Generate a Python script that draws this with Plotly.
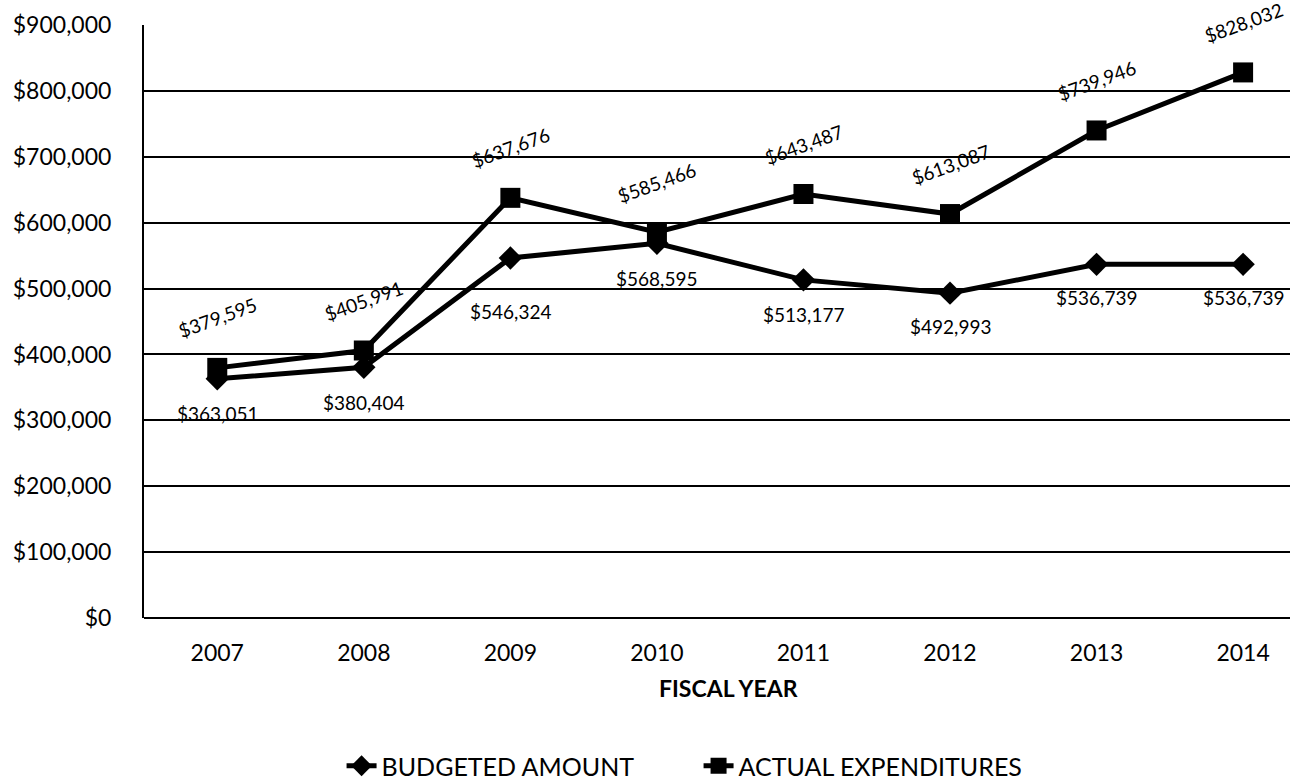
import plotly.graph_objects as go

years = ["2007", "2008", "2009", "2010", "2011", "2012", "2013", "2014"]
budgeted = [363051, 380404, 546324, 568595, 513177, 492993, 536739, 536739]
actual = [379595, 405991, 637676, 585466, 643487, 613087, 739946, 828032]
y_ticks = [0, 100000, 200000, 300000, 400000, 500000, 600000, 700000, 800000, 900000]

# label pixel offsets (style, not data)
budget_label_shift = [-35, -35, -53, -35, -35, -33, -33, -33]
actual_label_shift = 50

FONT = "Lato"
xs = list(range(len(years)))

fig = go.Figure()
fig.add_trace(go.Scatter(
    x=xs, y=budgeted, name="BUDGETED AMOUNT", mode="lines+markers",
    line=dict(color="black", width=5),
    marker=dict(symbol="diamond", size=18, color="black"),
))
fig.add_trace(go.Scatter(
    x=xs, y=actual, name="ACTUAL EXPENDITURES", mode="lines+markers",
    line=dict(color="black", width=5),
    marker=dict(symbol="square", size=20, color="black"),
))

annotations = []
for i, v in enumerate(budgeted):
    annotations.append(dict(
        x=xs[i], y=v, xref="x", yref="y", text=f"${v:,}", showarrow=False,
        yshift=budget_label_shift[i], font=dict(family=FONT, size=19, color="black"),
    ))
for i, v in enumerate(actual):
    annotations.append(dict(
        x=xs[i], y=v, xref="x", yref="y", text=f"${v:,}", showarrow=False,
        yshift=actual_label_shift, textangle=-20,
        font=dict(family=FONT, size=19, color="black"),
    ))
annotations.append(dict(
    x=0.51, y=(618 - 688) / 593, xref="paper", yref="paper", text="<b>FISCAL YEAR</b>",
    showarrow=False, xanchor="center", yanchor="middle",
    font=dict(family=FONT, size=23, color="black"),
))

fig.update_layout(
    width=1297, height=779,
    margin=dict(l=144, r=7, t=25, b=161, autoexpand=False),
    paper_bgcolor="white", plot_bgcolor="white",
    font=dict(family=FONT, color="black"),
    showlegend=True,
    legend=dict(orientation="h", xref="container", yref="container",
                x=0.5386, y=1 - 766 / 779, xanchor="center", yanchor="middle",
                font=dict(family=FONT, size=25, color="black"), itemwidth=30,
                entrywidth=312, traceorder="normal"),
    annotations=annotations,
)
fig.update_xaxes(
    range=[-0.5, 7.32], tickmode="array", tickvals=xs, ticktext=years,
    showgrid=False, zeroline=False, showline=False, automargin=False,
    tickfont=dict(family=FONT, size=23, color="black"), ticklabelstandoff=19,
)
fig.update_yaxes(
    range=[0, 900000], tickmode="array", tickvals=y_ticks,
    ticktext=[f"${t:,}" for t in y_ticks],
    showgrid=True, gridcolor="black", gridwidth=1.5,
    zeroline=True, zerolinecolor="black", zerolinewidth=1.5,
    showline=True, linecolor="black", linewidth=2, automargin=False,
    tickfont=dict(family=FONT, size=23, color="black"), ticklabelstandoff=26,
)

fig.write_html("out.html")
